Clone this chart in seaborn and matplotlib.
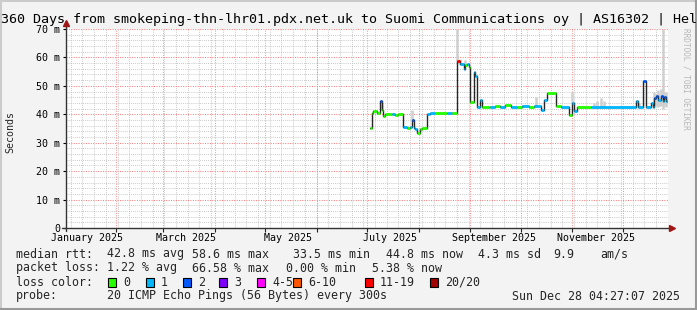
import numpy as np
import pandas as pd
import matplotlib
matplotlib.use("Agg")
import matplotlib.pyplot as plt
import matplotlib.dates as mdates
from matplotlib.ticker import MultipleLocator, FuncFormatter
from matplotlib.lines import Line2D
from matplotlib.patches import Rectangle
import seaborn as sns

# ---------------- data ----------------
title = "360 Days from smokeping-thn-lhr01.pdx.net.uk to Suomi Communications oy | AS16302 | Hel"
end_time = "2025-12-28 04:27:07"
span_days = 360

med_dates = [
    "2025-07-03", "2025-07-04", "2025-07-05", "2025-07-07", "2025-07-09", "2025-07-10",
    "2025-07-11", "2025-07-12", "2025-07-16", "2025-07-18", "2025-07-20", "2025-07-23",
    "2025-07-25", "2025-07-27", "2025-07-28", "2025-07-29", "2025-07-30", "2025-07-31",
    "2025-08-02", "2025-08-03", "2025-08-06", "2025-08-08", "2025-08-11", "2025-08-18",
    "2025-08-21", "2025-08-24", "2025-08-26", "2025-08-28", "2025-08-29", "2025-08-30",
    "2025-08-31", "2025-09-01", "2025-09-03", "2025-09-04", "2025-09-05", "2025-09-07",
    "2025-09-08", "2025-09-13", "2025-09-16", "2025-09-19", "2025-09-22", "2025-09-25",
    "2025-09-29", "2025-10-02", "2025-10-06", "2025-10-09", "2025-10-13", "2025-10-15",
    "2025-10-17", "2025-10-22", "2025-10-25", "2025-10-30", "2025-11-01", "2025-11-02",
    "2025-11-04", "2025-11-12", "2025-12-09", "2025-12-10", "2025-12-13", "2025-12-15",
    "2025-12-18", "2025-12-19", "2025-12-20", "2025-12-21", "2025-12-22", "2025-12-24",
    "2025-12-25", "2025-12-26", "2025-12-27",
]
med_ms = [
    35.1, 40.3, 41.0, 40.5, 44.7, 41.5,
    39.3, 40.2, 40.0, 39.6, 40.0, 35.6,
    35.1, 35.5, 38.0, 35.3, 34.7, 33.5,
    34.7, 35.3, 40.1, 40.3, 40.3, 40.4,
    40.3, 58.6, 57.7, 56.0, 57.5, 57.7,
    56.5, 44.4, 55.0, 53.3, 42.7, 45.0,
    42.7, 42.7, 43.0, 42.5, 43.2, 42.7,
    42.5, 42.9, 42.6, 42.8, 41.5, 45.0,
    47.4, 43.0, 42.7, 39.7, 43.9, 41.2,
    42.7, 42.6, 44.5, 42.7, 51.8, 42.7,
    44.1, 42.7, 45.6, 46.3, 44.9, 46.5,
    44.8, 46.0, 44.8,
]
med_loss = [
    0, 0, 0, 0, 2, 0,
    0, 0, 1, 0, 0, 1,
    0, 1, 2, 1, 1, 0,
    0, 0, 1, 1, 0, 1,
    0, 6, 1, 1, 0, 1,
    0, 0, 1, 1, 1, 1,
    0, 1, 0, 1, 0, 1,
    0, 1, 0, 1, 1, 1,
    0, 0, 1, 0, 1, 1,
    0, 1, 1, 1, 2, 1,
    1, 1, 2, 2, 1, 2,
    1, 2, 1,
]

smoke_dates = ["2025-07-10", "2025-07-28", "2025-08-24", "2025-08-26", "2025-08-29",
               "2025-10-10", "2025-11-01", "2025-11-14", "2025-11-16", "2025-11-18",
               "2025-11-20", "2025-12-11", "2025-12-20", "2025-12-21", "2025-12-22",
               "2025-12-23", "2025-12-24", "2025-12-25", "2025-12-26", "2025-12-27"]
smoke_lo = [41.5, 38.0, 58.6, 57.7, 57.5, 42.8, 43.9, 42.7, 42.7, 42.7,
            42.7, 42.7, 43.0, 43.0, 42.5, 43.0, 43.0, 42.0, 43.0, 42.5]
smoke_hi = [43.5, 41.5, 70.0, 59.5, 59.0, 46.0, 48.0, 44.0, 44.5, 45.7,
            44.5, 44.0, 48.0, 47.0, 48.5, 47.0, 49.0, 70.0, 48.0, 48.0]

loss_labels = ["0", "1", "2", "3", "4-5", "6-10", "11-19", "20/20"]
loss_colors = ["#26ff00", "#00b8ff", "#0059ff", "#7e00ff", "#ff00ff", "#ff5500", "#ff0000", "#a10000"]

rtt_items = ["median rtt:", "42.8 ms avg", "58.6 ms max", "33.5 ms min", "44.8 ms now",
             "4.3 ms sd", "9.9", "am/s"]
loss_items = ["packet loss:", "1.22 % avg", "66.58 % max", "0.00 % min", "5.38 % now"]
probe_items = ["probe:", "20 ICMP Echo Pings (56 Bytes) every 300s"]
stamp = "Sun Dec 28 04:27:07 2025"

# ---------------- layout ----------------
W, H = 697, 310
rtt_x = [16, 107, 192, 293, 386, 478, 553, 600]
loss_x = [16, 107, 192, 286, 372]
box_x = [108, 146, 183, 219, 257, 293, 365, 430]
probe_x = [16, 107]
row_y = [254, 268, 282, 296]

sns.set_theme(style="white")
plt.rcParams["font.family"] = ["DejaVu Sans Mono", "DejaVu Sans"]

fig = plt.figure(figsize=(W / 100, H / 100), dpi=100, facecolor="#f3f3f3")
ax = fig.add_axes([66 / W, 1 - 228 / H, 602 / W, 199 / H])
ax.set_facecolor("white")

end = pd.Timestamp(end_time)
start = end - pd.Timedelta(days=span_days)

df = pd.DataFrame({"date": pd.to_datetime(med_dates), "ms": med_ms, "loss": med_loss})
ext = pd.concat([df, pd.DataFrame({"date": [end], "ms": [df["ms"].iloc[-1]],
                                   "loss": [df["loss"].iloc[-1]]})], ignore_index=True)

# smoke
ax.vlines(pd.to_datetime(smoke_dates), smoke_lo, smoke_hi, color="#cfcfcf", lw=1.8, zorder=2)

# dark connector (step line)
sns.lineplot(data=ext, x="date", y="ms", drawstyle="steps-post", estimator=None,
             color="#262626", linewidth=1.0, ax=ax, zorder=3)

# coloured median segments by loss
x0 = ext["date"].iloc[:-1].values
x1 = ext["date"].iloc[1:].values
cols = [loss_colors[k] for k in df["loss"]]
ax.hlines(df["ms"].values, x0, x1, colors=cols, lw=2.0, zorder=4)

ax.set_xlim(start, end)
ax.set_ylim(0, 70)
ax.set_xlabel("")
ax.set_ylabel("")

# grid
red = (1.0, 0.45, 0.45, 0.8)
grey = (0.72, 0.72, 0.72, 1.0)
ax.xaxis.set_minor_locator(mdates.WeekdayLocator(byweekday=mdates.SU))
ax.xaxis.set_major_locator(mdates.MonthLocator(bymonth=[1, 3, 5, 7, 9, 11], bymonthday=15))
ax.xaxis.set_major_formatter(mdates.DateFormatter("%B %Y"))
ax.yaxis.set_major_locator(MultipleLocator(10))
ax.yaxis.set_minor_locator(MultipleLocator(2))
ax.yaxis.set_major_formatter(FuncFormatter(lambda v, p: "0" if v == 0 else f"{int(v)} m"))
ax.grid(False)
ax.grid(which="minor", axis="both", color=grey, ls=(0, (1, 1.5)), lw=0.6)
ax.grid(which="major", axis="y", color=red, ls=(0, (1, 1.5)), lw=0.7)
month_starts = pd.date_range("2025-02-01", "2025-12-01", freq="MS")
for d in month_starts:
    ax.axvline(d, color=red, ls=(0, (1, 1.5)), lw=0.7, zorder=1)
ax.vlines(month_starts, -0.018, 0, transform=ax.get_xaxis_transform(),
          color="#222222", lw=0.8, clip_on=False)
ax.set_axisbelow(True)

ax.tick_params(axis="x", which="major", length=0, pad=3.5, labelsize=7.2, colors="black")
ax.tick_params(axis="x", which="minor", length=0)
ax.tick_params(axis="y", which="major", length=2.5, width=0.8, pad=1.5, labelsize=7.2,
               colors="black", left=True)
ax.tick_params(axis="y", which="minor", length=0)

for s in ax.spines.values():
    s.set_visible(False)
ax.plot([0, 0], [-0.015, 1.03], transform=ax.transAxes, color="#333333", lw=1.0,
        clip_on=False, zorder=6)
ax.plot([-0.007, 1.005], [0, 0], transform=ax.transAxes, color="#333333", lw=1.0,
        clip_on=False, zorder=6)
ax.plot([0], [1.03], marker="^", ms=4.5, color="#a01515", transform=ax.transAxes,
        clip_on=False, zorder=7)
ax.plot([1.006], [0], marker=">", ms=4.5, color="#a01515", transform=ax.transAxes,
        clip_on=False, zorder=7)

# texts
def fx(px):
    return px / W

def fy(py):
    return 1 - py / H

fig.text(fx(1), fy(19), title, fontsize=9.6, ha="left", va="center", color="black")
fig.text(fx(10), fy(132), "Seconds", fontsize=7.2, rotation=90, ha="center", va="center")
fig.text(fx(686), fy(28), "RRDTOOL / TOBI OETIKER", fontsize=5.6, rotation=270,
         ha="center", va="top", color="#b8b8b8")

lf = 8.4
for s, x in zip(rtt_items, rtt_x):
    fig.text(fx(x), fy(row_y[0]), s, fontsize=lf, ha="left", va="center")
for s, x in zip(loss_items, loss_x):
    fig.text(fx(x), fy(row_y[1]), s, fontsize=lf, ha="left", va="center")
fig.text(fx(16), fy(row_y[2]), "loss color:", fontsize=lf, ha="left", va="center")
for lab, col, x in zip(loss_labels, loss_colors, box_x):
    fig.add_artist(Rectangle((fx(x), fy(row_y[2] + 4.5)), 8 / W, 9 / H,
                             transform=fig.transFigure, facecolor=col,
                             edgecolor="black", lw=0.8))
    fig.text(fx(x + 15), fy(row_y[2]), lab, fontsize=lf, ha="left", va="center")
for s, x in zip(probe_items, probe_x):
    fig.text(fx(x), fy(row_y[3]), s, fontsize=lf, ha="left", va="center")
fig.text(fx(680), fy(row_y[3]), stamp, fontsize=lf, ha="right", va="center")

# 3D border
fig.add_artist(Line2D([0, 1], [1 - 1 / H, 1 - 1 / H], transform=fig.transFigure,
                      color="#cbcbcb", lw=1.5))
fig.add_artist(Line2D([1 / W, 1 / W], [0, 1], transform=fig.transFigure,
                      color="#cbcbcb", lw=1.5))
fig.add_artist(Line2D([0, 1], [1 / H, 1 / H], transform=fig.transFigure,
                      color="#999999", lw=1.5))
fig.add_artist(Line2D([1 - 1 / W, 1 - 1 / W], [0, 1], transform=fig.transFigure,
                      color="#999999", lw=1.5))

fig.savefig("out.png", dpi=100, facecolor=fig.get_facecolor())
